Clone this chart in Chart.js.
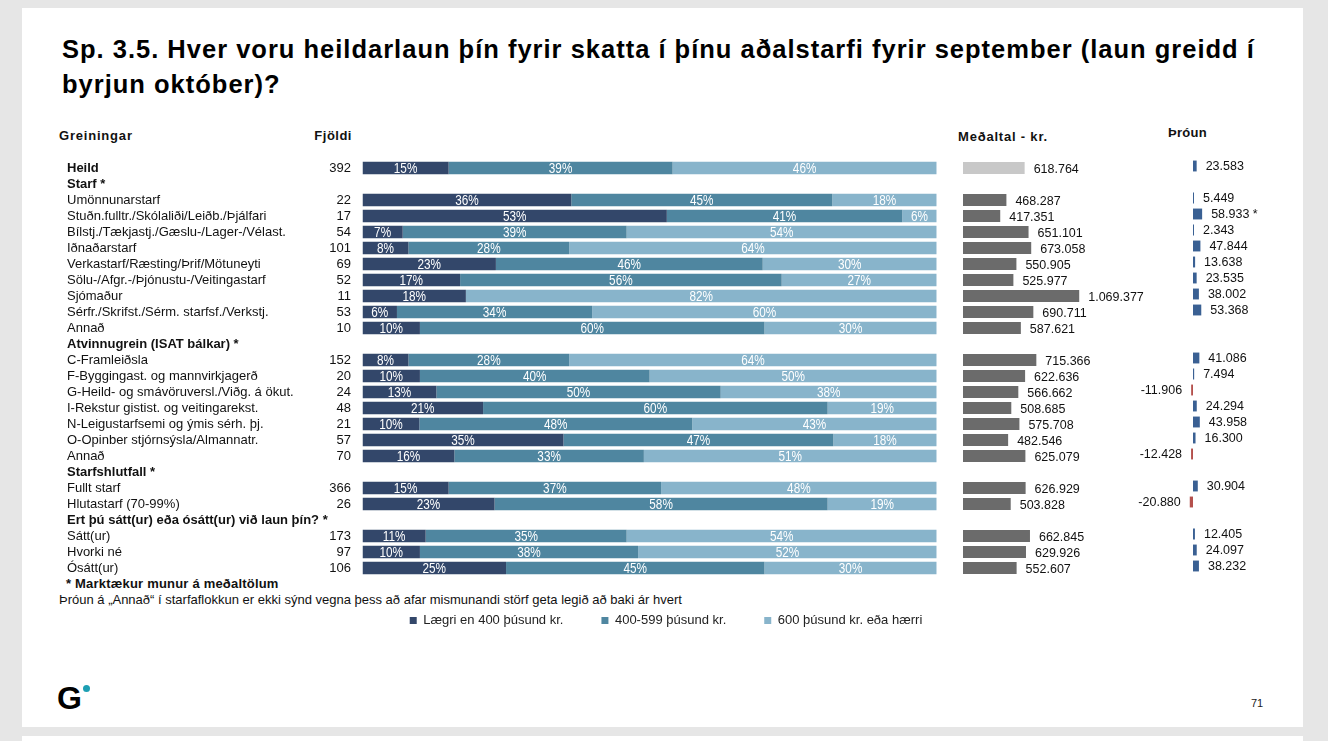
<!DOCTYPE html>
<html>
<head>
<meta charset="utf-8">
<script src="https://cdn.jsdelivr.net/npm/chart.js@4.4.0/dist/chart.umd.min.js"></script>
<style>
  body { margin: 0; background: #e6e6e6; font-family: 'Liberation Sans', Arial, sans-serif; color: #111; }
  .slide { position: absolute; left: 22px; top: 8px; width: 1281px; height: 719px; background: #fff; }
  .slide2 { position: absolute; left: 22px; top: 736px; width: 1281px; height: 10px; background: #fff; }
  .t { position: absolute; white-space: nowrap; line-height: 16px; font-size: 13px; }
  .b { font-weight: bold; }
  .hd { font-size: 13px; letter-spacing: 0.8px; }
  h1 { position: absolute; left: 62px; top: 32px; margin: 0; font-size: 25.5px; letter-spacing: 1px; line-height: 35px; font-weight: bold; color: #000; white-space: nowrap; }
  canvas { position: absolute; }
  .logo { position: absolute; left: 57px; top: 680px; font: bold 32px 'Liberation Sans', Arial, sans-serif; color: #000; }
  .dot { position: absolute; left: 83px; top: 685px; width: 7px; height: 7px; border-radius: 50%; background: #1d9fb3; }
</style>
</head>
<body>
<div class="slide"></div>
<div class="slide2"></div>
<h1>Sp. 3.5. Hver voru heildarlaun þín fyrir skatta í þínu aðalstarfi fyrir september (laun greidd í<br>byrjun október)?</h1>
<div class="t b hd" style="left:59px;top:128px">Greiningar</div>
<div class="t b hd" style="left:290px;top:128px;width:62px;text-align:right;letter-spacing:0.5px">Fjöldi</div>
<div class="t b hd" style="left:958px;top:129px">Meðaltal - kr.</div>
<div class="t b hd" style="left:1168px;top:125px;letter-spacing:0.3px">Þróun</div>
<div class="t b" style="left:66px;top:576px;letter-spacing:0.2px">* Marktækur munur á meðaltölum</div>
<div class="t" style="left:59px;top:592px">Þróun á „Annað“ í starfaflokkun er ekki sýnd vegna þess að afar mismunandi störf geta legið að baki ár hvert</div>
<div class="logo">G</div>
<div class="dot"></div>
<div class="t" style="left:1251px;top:695px;font-size:11px;color:#222">71</div>

<canvas id="pct" width="1235" height="483" style="left:30px;top:154px"></canvas>
<canvas id="mean" width="200" height="416" style="left:963px;top:160px"></canvas>
<canvas id="trend" width="190" height="416" style="left:1100px;top:158px"></canvas>

<script>
const categories = [
  'Heild', 'Starf *',
  'Umönnunarstarf', 'Stuðn.fulltr./Skólaliði/Leiðb./Þjálfari', 'Bílstj./Tækjastj./Gæslu-/Lager-/Vélast.',
  'Iðnaðarstarf', 'Verkastarf/Ræsting/Þrif/Mötuneyti', 'Sölu-/Afgr.-/Þjónustu-/Veitingastarf',
  'Sjómaður', 'Sérfr./Skrifst./Sérm. starfsf./Verkstj.', 'Annað',
  'Atvinnugrein (ISAT bálkar) *',
  'C-Framleiðsla', 'F-Byggingast. og mannvirkjagerð', 'G-Heild- og smávöruversl./Viðg. á ökut.',
  'I-Rekstur gistist. og veitingarekst.', 'N-Leigustarfsemi og ýmis sérh. þj.', 'O-Opinber stjórnsýsla/Almannatr.', 'Annað',
  'Starfshlutfall *',
  'Fullt starf', 'Hlutastarf (70-99%)',
  'Ert þú sátt(ur) eða ósátt(ur) við laun þín? *',
  'Sátt(ur)', 'Hvorki né', 'Ósátt(ur)'
]
const boldRows = [0, 1, 11, 19, 22]

const counts = [392, null, 22, 17, 54, 101, 69, 52, 11, 53, 10, null, 152, 20, 24, 48, 21, 57, 70, null, 366, 26, null, 173, 97, 106]

const seriesNames = ['Lægri en 400 þúsund kr.', '400-599 þúsund kr.', '600 þúsund kr. eða hærri']
const low  = [15, null, 36, 53,  7,  8, 23, 17, 18,  6, 10, null,  8, 10, 13, 21, 10, 35, 16, null, 15, 23, null, 11, 10, 25]
const mid  = [39, null, 45, 41, 39, 28, 46, 56,  0, 34, 60, null, 28, 40, 50, 60, 48, 47, 33, null, 37, 58, null, 35, 38, 45]
const high = [46, null, 18,  6, 54, 64, 30, 27, 82, 60, 30, null, 64, 50, 38, 19, 43, 18, 51, null, 48, 19, null, 54, 52, 30]

const mean = [618764, null, 468287, 417351, 651101, 673058, 550905, 525977, 1069377, 690711, 587621, null,
  715366, 622636, 566662, 508685, 575708, 482546, 625079, null, 626929, 503828, null, 662845, 629926, 552607]

const trend = [23583, null, 5449, 58933, 2343, 47844, 13638, 23535, 38002, 53368, null, null,
  41086, 7494, -11906, 24294, 43958, 16300, -12428, null, 30904, -20880, null, 12405, 24097, 38232]
const trendSignificant = [3]

Chart.defaults.font.family = "'Liberation Sans', Arial, sans-serif"
Chart.defaults.font.size = 13
Chart.defaults.color = '#111'
Chart.defaults.animation = false

const fmt = v => (v < 0 ? '-' : '') + Math.abs(v).toString().replace(/\B(?=(\d{3})+(?!\d))/g, '.')

// rows that round to 99 or 101 still fill the whole bar
const rowSum = categories.map((c, i) => (low[i] || 0) + (mid[i] || 0) + (high[i] || 0))
const norm = arr => arr.map((v, i) => v == null ? null : v / rowSum[i] * 100)
const rawSeries = [low, mid, high]

const pctLabels = {
  id: 'pctLabels',
  afterDatasetsDraw(chart) {
    const { ctx } = chart
    chart.data.datasets.forEach((ds, di) => {
      chart.getDatasetMeta(di).data.forEach((bar, i) => {
        const v = rawSeries[di][i]
        if (!v) return
        // narrow look, like Arial Narrow
        ctx.save()
        ctx.translate((bar.x + bar.base) / 2, bar.y + 1)
        ctx.scale(0.84, 1)
        ctx.font = "14px 'Liberation Sans', Arial, sans-serif"
        ctx.fillStyle = '#fff'
        ctx.textAlign = 'center'
        ctx.textBaseline = 'middle'
        ctx.fillText(v + '%', 0, 0)
        ctx.restore()
      })
    })
  }
}

const meanLabels = {
  id: 'meanLabels',
  afterDatasetsDraw(chart) {
    const { ctx } = chart
    ctx.save()
    ctx.font = "12.5px 'Liberation Sans', Arial, sans-serif"
    ctx.fillStyle = '#111'
    ctx.textAlign = 'left'
    ctx.textBaseline = 'middle'
    chart.getDatasetMeta(0).data.forEach((bar, i) => {
      if (mean[i] == null) return
      ctx.fillText(fmt(mean[i]), bar.x + 9, bar.y + 2)
    })
    ctx.restore()
  }
}

const trendLabels = {
  id: 'trendLabels',
  afterDatasetsDraw(chart) {
    const { ctx } = chart
    ctx.save()
    ctx.font = "12.5px 'Liberation Sans', Arial, sans-serif"
    ctx.fillStyle = '#111'
    ctx.textBaseline = 'middle'
    chart.getDatasetMeta(0).data.forEach((bar, i) => {
      const v = trend[i]
      if (v == null) return
      let txt = fmt(v)
      if (trendSignificant.includes(i)) txt += ' *'
      if (v < 0) {
        ctx.textAlign = 'right'
        ctx.fillText(txt, Math.min(bar.x, bar.base) - 9, bar.y + 1)
      } else {
        ctx.textAlign = 'left'
        ctx.fillText(txt, Math.max(bar.x, bar.base) + 9, bar.y + 1)
      }
    })
    ctx.restore()
  }
}

const hiddenGrid = { display: false, drawTicks: false }

new Chart(document.getElementById('pct'), {
  type: 'bar',
  plugins: [pctLabels],
  data: {
    labels: categories,
    datasets: [
      { label: seriesNames[0], data: norm(low), backgroundColor: '#33476a' },
      { label: seriesNames[1], data: norm(mid), backgroundColor: '#4f86a0' },
      { label: seriesNames[2], data: norm(high), backgroundColor: '#88b4cb' }
    ]
  },
  options: {
    indexAxis: 'y',
    responsive: false,
    layout: { padding: { left: 37 } },
    datasets: { bar: { barPercentage: 0.78, categoryPercentage: 1, borderWidth: 0 } },
    scales: {
      x: { display: false, stacked: true, min: 0, max: 100 },
      // row names, mirrored so long headers are not clipped
      y: {
        stacked: true,
        position: 'left',
        weight: 20,
        offset: true,
        grid: hiddenGrid,
        border: { display: false },
        ticks: {
          mirror: true,
          crossAlign: 'near',
          autoSkip: false,
          padding: 0,
          color: '#111',
          font: c => ({ size: 13, lineHeight: '12px', weight: boldRows.includes(c.index) ? 'bold' : 'normal' })
        },
        afterFit: s => { s.width = 0 }
      },
      yCount: {
        type: 'category',
        labels: counts.map(v => v == null ? '' : String(v)),
        position: 'left',
        weight: 10,
        offset: true,
        grid: hiddenGrid,
        border: { display: false },
        ticks: { autoSkip: false, padding: 0, color: '#111', font: { size: 13, lineHeight: '12px' } },
        afterFit: s => { s.width = 284 }
      },
      yGap: {
        type: 'category',
        labels: [''],
        position: 'left',
        weight: 0,
        grid: hiddenGrid,
        border: { display: false },
        ticks: { display: false },
        afterFit: s => { s.width = 11.5 }
      },
      yPad: {
        type: 'category',
        labels: [''],
        position: 'right',
        grid: hiddenGrid,
        border: { display: false },
        ticks: { display: false },
        afterFit: s => { s.width = 328.3 }
      }
    },
    plugins: {
      legend: {
        position: 'bottom',
        labels: { boxWidth: 7, boxHeight: 7, padding: 38, color: '#222', font: { size: 13 } }
      },
      tooltip: { enabled: false }
    }
  }
})

new Chart(document.getElementById('mean'), {
  type: 'bar',
  plugins: [meanLabels],
  data: {
    labels: categories,
    datasets: [{
      data: mean,
      backgroundColor: c => c.dataIndex === 0 ? '#c8c8c8' : '#6b6b6b',
      barPercentage: 0.75,
      categoryPercentage: 1
    }]
  },
  options: {
    indexAxis: 'y',
    responsive: false,
    scales: {
      x: { display: false, min: 110000, max: 1761000 },
      y: { display: false }
    },
    plugins: { legend: { display: false }, tooltip: { enabled: false } }
  }
})

new Chart(document.getElementById('trend'), {
  type: 'bar',
  plugins: [trendLabels],
  data: {
    labels: categories,
    datasets: [{
      data: trend,
      backgroundColor: c => c.raw < 0 ? '#b4504c' : '#3a6093',
      barPercentage: 0.68,
      categoryPercentage: 1,
      minBarLength: 1
    }]
  },
  options: {
    indexAxis: 'y',
    responsive: false,
    scales: {
      x: { display: false, min: -600000, max: 625800 },
      y: { display: false }
    },
    plugins: { legend: { display: false }, tooltip: { enabled: false } }
  }
})
</script>
</body>
</html>
